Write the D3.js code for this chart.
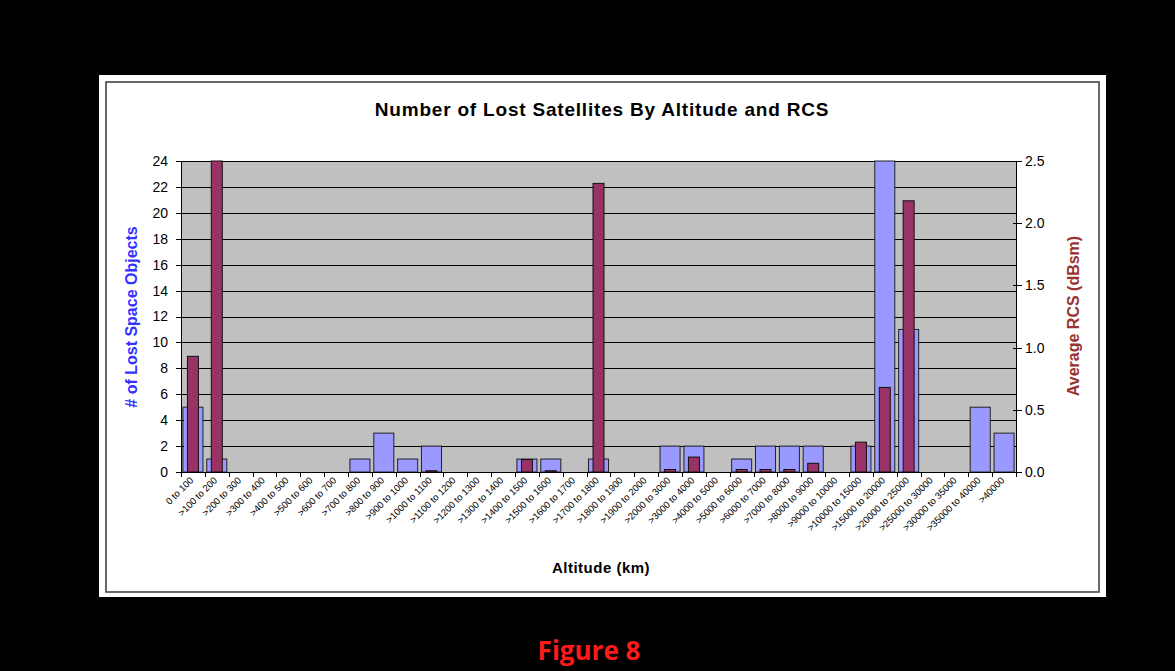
<!DOCTYPE html>
<html>
<head>
<meta charset="utf-8">
<script src="https://cdn.jsdelivr.net/npm/d3@7"></script>
<style>
  html, body { margin: 0; padding: 0; background: #000; }
  svg { display: block; }
</style>
</head>
<body>
<script>
// Altitude bins (km)
const altitudeBins = [
  "0 to 100", ">100 to 200", ">200 to 300", ">300 to 400", ">400 to 500",
  ">500 to 600", ">600 to 700", ">700 to 800", ">800 to 900", ">900 to 1000",
  ">1000 to 1100", ">1100 to 1200", ">1200 to 1300", ">1300 to 1400", ">1400 to 1500",
  ">1500 to 1600", ">1600 to 1700", ">1700 to 1800", ">1800 to 1900", ">1900 to 2000",
  ">2000 to 3000", ">3000 to 4000", ">4000 to 5000", ">5000 to 6000", ">6000 to 7000",
  ">7000 to 8000", ">8000 to 9000", ">9000 to 10000", ">10000 to 15000", ">15000 to 20000",
  ">20000 to 25000", ">25000 to 30000", ">30000 to 35000", ">35000 to 40000", ">40000"
];

// Number of lost space objects per bin
const lostCounts = [
  5, 1, 0, 0, 0, 0, 0, 1, 3, 1,
  2, 0, 0, 0, 1, 1, 0, 1, 0, 0,
  2, 2, 0, 1, 2, 2, 2, 0, 2, 24,
  11, 0, 0, 5, 3
];

// Average RCS (dBsm) per bin
const avgRcs = [
  0.93, 2.5, 0, 0, 0, 0, 0, 0, 0, 0,
  0.01, 0, 0, 0, 0.1, 0.01, 0, 2.32, 0, 0,
  0.02, 0.12, 0, 0.02, 0.02, 0.02, 0.07, 0, 0.24, 0.68,
  2.18, 0, 0, 0, 0
];

const leftTicks = [0, 2, 4, 6, 8, 10, 12, 14, 16, 18, 20, 22, 24];
const rightTicks = [0, 0.5, 1.0, 1.5, 2.0, 2.5];

const W = 1175, H = 671;
const plot = { left: 181, right: 1016, top: 161, bottom: 472 };
const sans = "Liberation Sans, Arial, sans-serif";

const svg = d3.select("body").append("svg")
  .attr("width", W).attr("height", H);

// page background
svg.append("rect").attr("x", 0).attr("y", 0).attr("width", W).attr("height", H).attr("fill", "#000");

// chart panel
svg.append("rect").attr("x", 99).attr("y", 75).attr("width", 1007).attr("height", 522).attr("fill", "#fff");
svg.append("rect").attr("x", 106).attr("y", 82).attr("width", 993).attr("height", 510)
  .attr("fill", "none").attr("stroke", "#444").attr("stroke-width", 1.6);

// scales
const xCat = d3.scaleBand().domain(altitudeBins).range([plot.left, plot.right]).padding(0);
const step = xCat.step();
const yCount = d3.scaleLinear().domain([0, 24]).range([plot.bottom, plot.top]);
const yRcs = d3.scaleLinear().domain([0, 2.5]).range([plot.bottom, plot.top]);

// plot area
svg.append("rect")
  .attr("x", plot.left).attr("y", plot.top)
  .attr("width", plot.right - plot.left).attr("height", plot.bottom - plot.top)
  .attr("fill", "#c0c0c0");

// gridlines
svg.append("g").selectAll("line")
  .data(leftTicks.filter(d => d > 0))
  .join("line")
  .attr("x1", plot.left).attr("x2", plot.right)
  .attr("y1", d => Math.round(yCount(d)) + 0.5).attr("y2", d => Math.round(yCount(d)) + 0.5)
  .attr("stroke", "#000").attr("stroke-width", 1);

// count bars
const blueW = step * 0.84;
svg.append("g").selectAll("rect")
  .data(altitudeBins.map((b, i) => ({ b, v: lostCounts[i] })).filter(d => d.v > 0))
  .join("rect")
  .attr("x", d => xCat(d.b) + (step - blueW) / 2)
  .attr("width", blueW)
  .attr("y", d => yCount(d.v))
  .attr("height", d => yCount(0) - yCount(d.v))
  .attr("fill", "#9999ff").attr("stroke", "#222").attr("stroke-width", 1);

// RCS bars
const redW = step * 0.46;
svg.append("g").selectAll("rect")
  .data(altitudeBins.map((b, i) => ({ b, v: avgRcs[i] })).filter(d => d.v > 0))
  .join("rect")
  .attr("x", d => xCat(d.b) + (step - redW) / 2)
  .attr("width", redW)
  .attr("y", d => yRcs(d.v))
  .attr("height", d => yRcs(0) - yRcs(d.v))
  .attr("fill", "#993366").attr("stroke", "#111").attr("stroke-width", 1);

// left axis
const leftAxis = d3.axisLeft(yCount).tickValues(leftTicks).tickSize(0).tickPadding(13);
const gL = svg.append("g").attr("transform", `translate(${plot.left},0)`).call(leftAxis);
gL.select(".domain").remove();
gL.selectAll(".tick line").remove();
gL.selectAll(".tick text")
  .attr("font-family", sans).attr("font-size", 14).attr("fill", "#000");
svg.append("line").attr("x1", plot.left + 0.5).attr("x2", plot.left + 0.5)
  .attr("y1", plot.top).attr("y2", plot.bottom).attr("stroke", "#000");
svg.append("g").selectAll("line").data(leftTicks).join("line")
  .attr("x1", plot.left - 5).attr("x2", plot.left + 3)
  .attr("y1", d => Math.round(yCount(d)) + 0.5).attr("y2", d => Math.round(yCount(d)) + 0.5)
  .attr("stroke", "#000");

// right axis
const rightAxis = d3.axisRight(yRcs).tickValues(rightTicks).tickFormat(d3.format(".1f")).tickSize(0).tickPadding(9);
const gR = svg.append("g").attr("transform", `translate(${plot.right},0)`).call(rightAxis);
gR.select(".domain").remove();
gR.selectAll(".tick text")
  .attr("font-family", sans).attr("font-size", 14).attr("fill", "#000");
svg.append("line").attr("x1", plot.right + 0.5).attr("x2", plot.right + 0.5)
  .attr("y1", plot.top).attr("y2", plot.bottom).attr("stroke", "#000");
svg.append("g").selectAll("line").data(rightTicks).join("line")
  .attr("x1", plot.right - 3).attr("x2", plot.right + 6)
  .attr("y1", d => Math.round(yRcs(d)) + 0.5).attr("y2", d => Math.round(yRcs(d)) + 0.5)
  .attr("stroke", "#000");

// x axis line and category ticks
svg.append("line").attr("x1", plot.left).attr("x2", plot.right)
  .attr("y1", plot.bottom + 0.5).attr("y2", plot.bottom + 0.5).attr("stroke", "#000");
const tickXs = altitudeBins.map(b => xCat(b)).concat([plot.right]);
svg.append("g").selectAll("line").data(tickXs).join("line")
  .attr("x1", d => Math.round(d) + 0.5).attr("x2", d => Math.round(d) + 0.5)
  .attr("y1", plot.bottom).attr("y2", plot.bottom + 5)
  .attr("stroke", "#000");

// category labels, rotated
svg.append("g").selectAll("text").data(altitudeBins).join("text")
  .attr("transform", d => `translate(${xCat(d) + step / 2 + 1},${plot.bottom + 9}) rotate(-45)`)
  .attr("text-anchor", "end")
  .attr("font-family", sans)
  .attr("font-size", 9.5)
  .attr("fill", "#000")
  .text(d => d);

// title
svg.append("text").attr("x", 602).attr("y", 116).attr("text-anchor", "middle")
  .attr("font-family", sans).attr("font-weight", "bold")
  .attr("font-size", 19).attr("letter-spacing", 0.8).attr("fill", "#000")
  .text("Number of Lost Satellites By Altitude and RCS");

// axis titles
svg.append("text").attr("transform", "translate(137,317) rotate(-90)").attr("text-anchor", "middle")
  .attr("font-family", sans).attr("font-weight", "bold")
  .attr("font-size", 16).attr("fill", "#3333ff")
  .text("# of Lost Space Objects");
svg.append("text").attr("transform", "translate(1079,316) rotate(-90)").attr("text-anchor", "middle")
  .attr("font-family", sans).attr("font-weight", "bold")
  .attr("font-size", 16).attr("fill", "#993333")
  .text("Average RCS (dBsm)");
svg.append("text").attr("x", 601).attr("y", 573).attr("text-anchor", "middle")
  .attr("font-family", sans).attr("font-weight", "bold")
  .attr("font-size", 15).attr("letter-spacing", 0.5).attr("fill", "#000")
  .text("Altitude (km)");

// figure caption
svg.append("text").attr("x", 589).attr("y", 660).attr("text-anchor", "middle")
  .attr("font-family", "Open Sans, Lato, sans-serif").attr("font-weight", "bold")
  .attr("font-size", 26).attr("fill", "#ff1a1a")
  .text("Figure 8");
</script>
</body>
</html>
